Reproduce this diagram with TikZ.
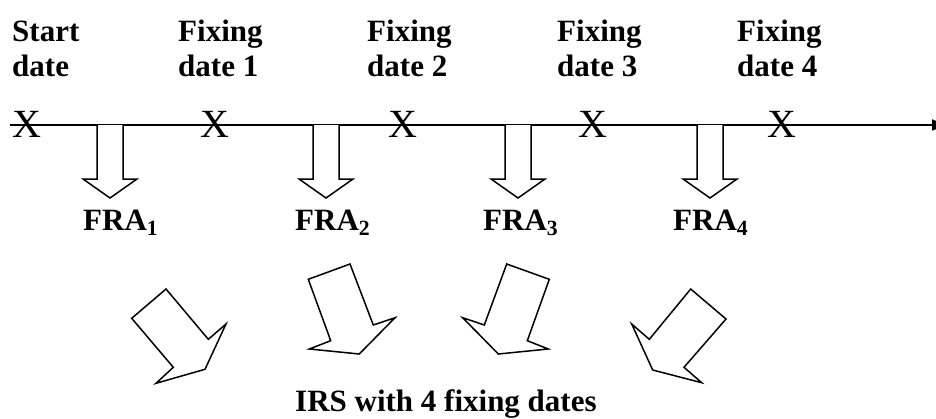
\documentclass[tikz,border=0pt]{standalone}
\usepackage{fontspec}
\setmainfont{Liberation Serif}
\usetikzlibrary{arrows.meta}
\begin{document}
\begin{tikzpicture}[x=1pt,y=-1pt,
  lbl/.style={font=\fontsize{31}{35}\selectfont\bfseries, inner sep=0pt, align=left, anchor=base west},
  cross/.style={font=\fontsize{40}{40}\selectfont, inner sep=0pt},
  blk/.style={draw=black, line width=1.5pt, line join=miter, fill=white},
  axis/.style={line width=2pt, -{Triangle[length=14pt,width=11pt]}}]
\useasboundingbox (0,0) rectangle (936,418);

% time axis
\coordinate (t0) at (10,125);
\coordinate (t1) at (946,125);
\draw[axis] (t0) -- (t1);

% one FRA per period, hanging below the axis
\foreach \c in {110,326,518,710}
  \draw[blk] (\c-13,125) -- (\c-13,179) -- (\c-27,179) -- (\c,198)
             -- (\c+27,179) -- (\c+13,179) -- (\c+13,125);

% dates on the axis
\node[cross] (x0) at (27,124) {X};
\node[cross] (x1) at (215,124) {X};
\node[cross] (x2) at (403,124) {X};
\node[cross] (x3) at (593,124) {X};
\node[cross] (x4) at (782,124) {X};

\node[lbl] (d0) at (12,76) {Start\\date};
\node[lbl] (d1) at (178,76) {Fixing\\date 1};
\node[lbl] (d2) at (367,76) {Fixing\\date 2};
\node[lbl] (d3) at (557,76) {Fixing\\date 3};
\node[lbl] (d4) at (737,76) {Fixing\\date 4};

\node[lbl] (f1) at (83,230) {FRA\textsubscript{1}};
\node[lbl] (f2) at (295,230) {FRA\textsubscript{2}};
\node[lbl] (f3) at (483,230) {FRA\textsubscript{3}};
\node[lbl] (f4) at (673,230) {FRA\textsubscript{4}};

% the FRAs combine into the swap
\draw[blk] (131.7,318.3) -- (166,289) -- (208.3,339.3) -- (226,324) -- (205,369.3) -- (156,383.3) -- (173.3,367.3) -- cycle;
\draw[blk] (308.3,279.3) -- (350,264) -- (373.3,325) -- (395,317.7) -- (359.3,354) -- (309.3,349) -- (330.7,340.7) -- cycle;
\draw[blk] (506.7,264) -- (549.3,279.3) -- (527.3,340.7) -- (548.3,349) -- (498.3,354) -- (462.7,317.7) -- (484.3,325) -- cycle;
\draw[blk] (690.7,289) -- (726,319) -- (684,367.3) -- (701.7,382.7) -- (652.7,370) -- (631.7,324) -- (649.3,339.3) -- cycle;

\node[lbl] (irs) at (295,411) {IRS with 4 fixing dates};
\end{tikzpicture}
\end{document}
